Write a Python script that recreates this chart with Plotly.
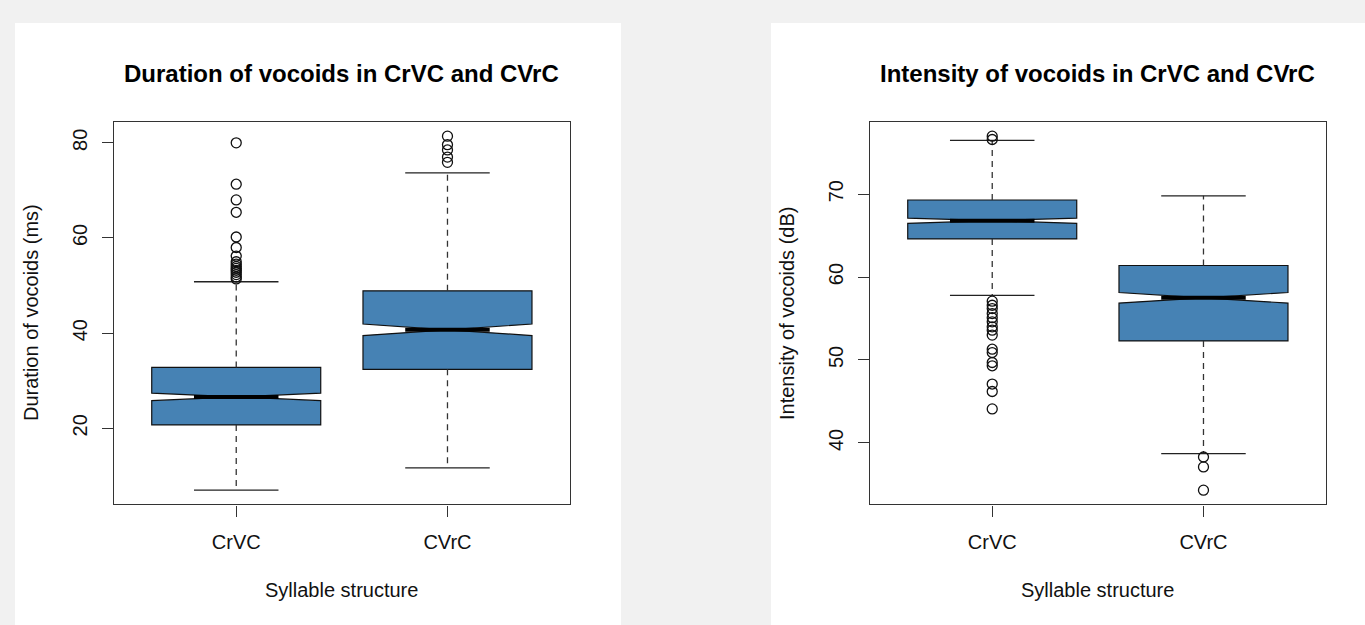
import plotly.graph_objects as go

# ---------------- data ----------------
categories = ["CrVC", "CVrC"]
positions = [1, 2]

dur_lowerfence = [7.0, 11.7]
dur_q1 = [20.7, 32.4]
dur_median = [26.6, 40.7]
dur_q3 = [32.8, 48.9]
dur_upperfence = [50.8, 73.7]
dur_notchspan = [0.8, 1.22]
dur_out_crvc = [80.0, 71.3, 68.0, 65.4, 60.2, 58.0, 56.2, 55.0, 54.5, 54.0,
                53.6, 53.2, 52.8, 52.3, 51.8, 51.4]
dur_out_cvrc = [81.4, 79.6, 78.5, 77.0, 75.9]
dur_ticks = [20, 40, 60, 80]

int_lowerfence = [57.8, 38.7]
int_q1 = [64.6, 52.3]
int_median = [66.8, 57.5]
int_q3 = [69.3, 61.4]
int_upperfence = [76.5, 69.8]
int_notchspan = [0.32, 0.64]
int_out_crvc = [77.0, 76.6, 57.1, 56.6, 56.2, 55.6, 55.1, 54.6, 54.0, 53.6,
                53.0, 51.3, 50.9, 49.7, 49.3, 47.1, 46.2, 44.1]
int_out_cvrc = [38.3, 37.1, 34.3]
int_ticks = [40, 50, 60, 70]

# ---------------- styling ----------------
W, H = 1365, 625
FONT = "Liberation Sans, Arial, Helvetica, sans-serif"
FILL = "#4682B4"
BOX_W = 0.8
HALF = BOX_W / 4  # median line / whisker cap half-width
AX_FS = 20

fig = go.Figure()


def add_panel(xa, ya, lowf, q1, med, q3, upf, nspan, outs):
    for i, p in enumerate(positions):
        fig.add_trace(go.Box(
            x=[p], q1=[q1[i]], median=[med[i]], q3=[q3[i]],
            lowerfence=[q1[i]], upperfence=[q3[i]],
            notched=True, notchspan=[nspan[i]], notchwidth=0.5,
            width=BOX_W, whiskerwidth=0,
            fillcolor=FILL, line=dict(color="#111111", width=1.2),
            boxpoints=False, xaxis=xa, yaxis=ya, showlegend=False,
            hoverinfo="skip"))
        # dashed whiskers
        for a, b in ((q3[i], upf[i]), (q1[i], lowf[i])):
            fig.add_trace(go.Scatter(
                x=[p, p], y=[a, b], mode="lines",
                line=dict(color="#333333", width=1.3, dash="6px,5px"),
                xaxis=xa, yaxis=ya, showlegend=False, hoverinfo="skip"))
        # whisker caps
        for v in (upf[i], lowf[i]):
            fig.add_trace(go.Scatter(
                x=[p - HALF, p + HALF], y=[v, v], mode="lines",
                line=dict(color="#222222", width=1.3),
                xaxis=xa, yaxis=ya, showlegend=False, hoverinfo="skip"))
        # thick median
        fig.add_trace(go.Scatter(
            x=[p - HALF, p + HALF], y=[med[i], med[i]], mode="lines",
            line=dict(color="black", width=4),
            xaxis=xa, yaxis=ya, showlegend=False, hoverinfo="skip"))
        # outliers
        fig.add_trace(go.Scatter(
            x=[p] * len(outs[i]), y=outs[i], mode="markers",
            marker=dict(symbol="circle-open", size=10, color="#111111",
                        line=dict(width=1.3)),
            xaxis=xa, yaxis=ya, showlegend=False, hoverinfo="skip"))


add_panel("x", "y", dur_lowerfence, dur_q1, dur_median, dur_q3,
          dur_upperfence, dur_notchspan, [dur_out_crvc, dur_out_cvrc])
add_panel("x2", "y2", int_lowerfence, int_q1, int_median, int_q3,
          int_upperfence, int_notchspan, [int_out_crvc, int_out_cvrc])


def r_range(vals):
    lo, hi = min(vals), max(vals)
    s = hi - lo
    return [lo - 0.04 * s, hi + 0.04 * s]


dur_all = dur_lowerfence + dur_upperfence + dur_out_crvc + dur_out_cvrc
int_all = int_lowerfence + int_upperfence + int_out_crvc + int_out_cvrc

px = lambda v: v / W
py = lambda v: 1 - v / H

yd = [py(504.3), py(122)]
xax_common = dict(
    range=[0.42, 2.58], tickmode="array", tickvals=positions,
    ticktext=categories, ticks="outside", ticklen=11, tickwidth=1.2,
    tickcolor="#333333", showline=True, mirror=True, linecolor="#333333",
    linewidth=1.4, showgrid=False, zeroline=False,
    tickfont=dict(family=FONT, size=AX_FS, color="#111111"),
    ticklabelstandoff=8)
yax_common = dict(
    ticks="outside", ticklen=11, tickwidth=1.2, tickcolor="#333333",
    showline=True, mirror=True, linecolor="#333333", linewidth=1.4,
    showgrid=False, zeroline=False, tickangle=-90,
    tickfont=dict(family=FONT, size=AX_FS, color="#111111"),
    ticklabelstandoff=7)

fig.update_layout(
    width=W, height=H, autosize=False,
    margin=dict(l=0, r=0, t=0, b=0),
    paper_bgcolor="#f1f1f1", plot_bgcolor="white",
    xaxis=dict(xax_common, domain=[px(113.7), px(570)], anchor="y"),
    yaxis=dict(yax_common, domain=yd, anchor="x", range=r_range(dur_all),
               tickvals=dur_ticks),
    xaxis2=dict(xax_common, domain=[px(869.7), px(1326)], anchor="y2"),
    yaxis2=dict(yax_common, domain=yd, anchor="x2", range=r_range(int_all),
                tickvals=int_ticks),
    shapes=[
        dict(type="rect", xref="paper", yref="paper", layer="below",
             x0=px(15), x1=px(621), y0=0, y1=py(23),
             fillcolor="white", line=dict(width=0)),
        dict(type="rect", xref="paper", yref="paper", layer="below",
             x0=px(771), x1=1.0, y0=0, y1=py(23),
             fillcolor="white", line=dict(width=0)),
    ],
)

ann = []
for cx, title, ytitle, ycx in (
        (px(341.9), "<b>Duration of vocoids in CrVC and CVrC</b>",
         "Duration of vocoids (ms)", px(31)),
        (px(1097.9), "<b>Intensity of vocoids in CrVC and CVrC</b>",
         "Intensity of vocoids (dB)", px(787))):
    ann.append(dict(xref="paper", yref="paper", x=cx, y=py(73),
                    text=title, showarrow=False, xanchor="center",
                    yanchor="middle",
                    font=dict(family=FONT, size=24, color="black")))
    ann.append(dict(xref="paper", yref="paper", x=cx, y=py(590),
                    text="Syllable structure", showarrow=False,
                    xanchor="center", yanchor="middle",
                    font=dict(family=FONT, size=AX_FS, color="#111111")))
    ann.append(dict(xref="paper", yref="paper", x=ycx, y=py(313),
                    text=ytitle, showarrow=False, textangle=-90,
                    xanchor="center", yanchor="middle",
                    font=dict(family=FONT, size=AX_FS, color="#111111")))
fig.update_layout(annotations=ann)

fig.write_html("out.html",
               config={"displayModeBar": False},
               post_script="document.body.style.margin='0';"
                           "document.body.style.overflow='hidden';")
